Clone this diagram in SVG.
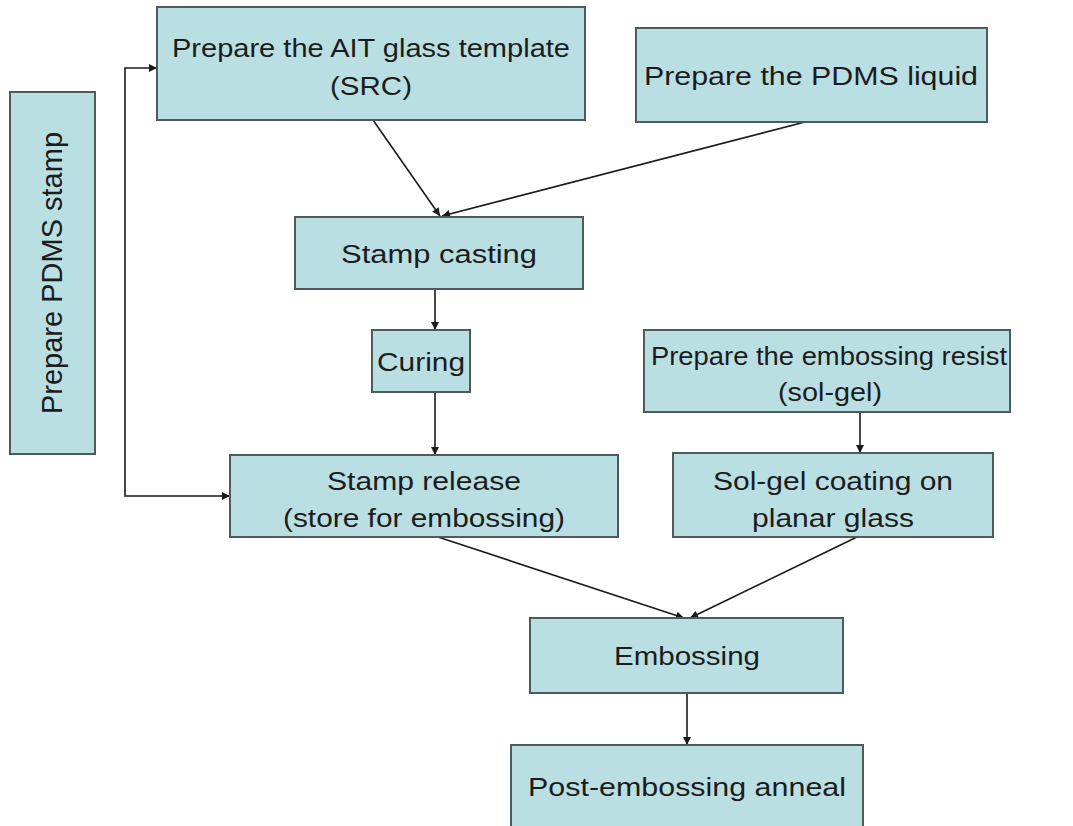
<svg xmlns="http://www.w3.org/2000/svg" width="1073" height="826" viewBox="0 0 1073 826">
<style>
.box{fill:#b9dfe3;stroke:#4f5a5c;stroke-width:2}
.t{font-family:"Liberation Sans",Arial,sans-serif;font-size:26px;fill:#1c1c1c;text-anchor:middle}
.c{fill:none;stroke:#1a1a1a;stroke-width:1.6}
</style>
<defs>
<marker id="ah" viewBox="0 0 10 10" refX="10" refY="5" markerWidth="9" markerHeight="8" markerUnits="userSpaceOnUse" orient="auto-start-reverse">
<path d="M0,0 L10,5 L0,10 z" fill="#1a1a1a"/>
</marker>
</defs>
<rect width="1073" height="826" fill="#ffffff"/>
<g id="connectors">
<polyline class="c" points="230,496 125,496 125,68 157,68" marker-start="url(#ah)" marker-end="url(#ah)"/>
<line class="c" x1="373" y1="120" x2="440" y2="216" marker-end="url(#ah)"/>
<line class="c" x1="805" y1="122" x2="442" y2="216" marker-end="url(#ah)"/>
<line class="c" x1="435" y1="289" x2="435" y2="330" marker-end="url(#ah)"/>
<line class="c" x1="435" y1="392" x2="435" y2="455" marker-end="url(#ah)"/>
<line class="c" x1="860" y1="412" x2="860" y2="453" marker-end="url(#ah)"/>
<line class="c" x1="438" y1="537" x2="684" y2="618" marker-end="url(#ah)"/>
<line class="c" x1="857" y1="537" x2="690" y2="618" marker-end="url(#ah)"/>
<line class="c" x1="687" y1="693" x2="687" y2="745" marker-end="url(#ah)"/>
</g>
<g id="n-stamp-vertical">
<rect class="box" x="10" y="92" width="85" height="362"/>
<text class="t" style="font-size:29px" transform="translate(62,273) rotate(-90)">Prepare PDMS stamp</text>
</g>
<g id="n-template">
<rect class="box" x="157" y="7" width="428" height="113"/>
<text class="t" x="371" y="57" textLength="398" lengthAdjust="spacingAndGlyphs">Prepare the AIT glass template</text>
<text class="t" x="371" y="95" textLength="82" lengthAdjust="spacingAndGlyphs">(SRC)</text>
</g>
<g id="n-pdms-liquid">
<rect class="box" x="636" y="28" width="351" height="94"/>
<text class="t" x="811" y="85" textLength="334" lengthAdjust="spacingAndGlyphs">Prepare the PDMS liquid</text>
</g>
<g id="n-stamp-casting">
<rect class="box" x="295" y="217" width="288" height="72"/>
<text class="t" x="439" y="263" textLength="196" lengthAdjust="spacingAndGlyphs">Stamp casting</text>
</g>
<g id="n-curing">
<rect class="box" x="372" y="330" width="98" height="62"/>
<text class="t" x="421" y="371" textLength="88" lengthAdjust="spacingAndGlyphs">Curing</text>
</g>
<g id="n-stamp-release">
<rect class="box" x="230" y="455" width="388" height="82"/>
<text class="t" x="424" y="490" textLength="194" lengthAdjust="spacingAndGlyphs">Stamp release</text>
<text class="t" x="424" y="527" textLength="282" lengthAdjust="spacingAndGlyphs">(store for embossing)</text>
</g>
<g id="n-resist">
<rect class="box" x="644" y="330" width="366" height="82"/>
<text class="t" x="829" y="365" textLength="356" lengthAdjust="spacingAndGlyphs">Prepare the embossing resist</text>
<text class="t" x="830" y="401" textLength="104" lengthAdjust="spacingAndGlyphs">(sol-gel)</text>
</g>
<g id="n-solgel-coating">
<rect class="box" x="673" y="453" width="320" height="84"/>
<text class="t" x="833" y="490" textLength="240" lengthAdjust="spacingAndGlyphs">Sol-gel coating on</text>
<text class="t" x="833" y="527" textLength="162" lengthAdjust="spacingAndGlyphs">planar glass</text>
</g>
<g id="n-embossing">
<rect class="box" x="530" y="618" width="313" height="75"/>
<text class="t" x="687" y="665" textLength="146" lengthAdjust="spacingAndGlyphs">Embossing</text>
</g>
<g id="n-anneal">
<rect class="box" x="511" y="745" width="352" height="90"/>
<text class="t" x="687" y="796" textLength="318" lengthAdjust="spacingAndGlyphs">Post-embossing anneal</text>
</g>
</svg>
